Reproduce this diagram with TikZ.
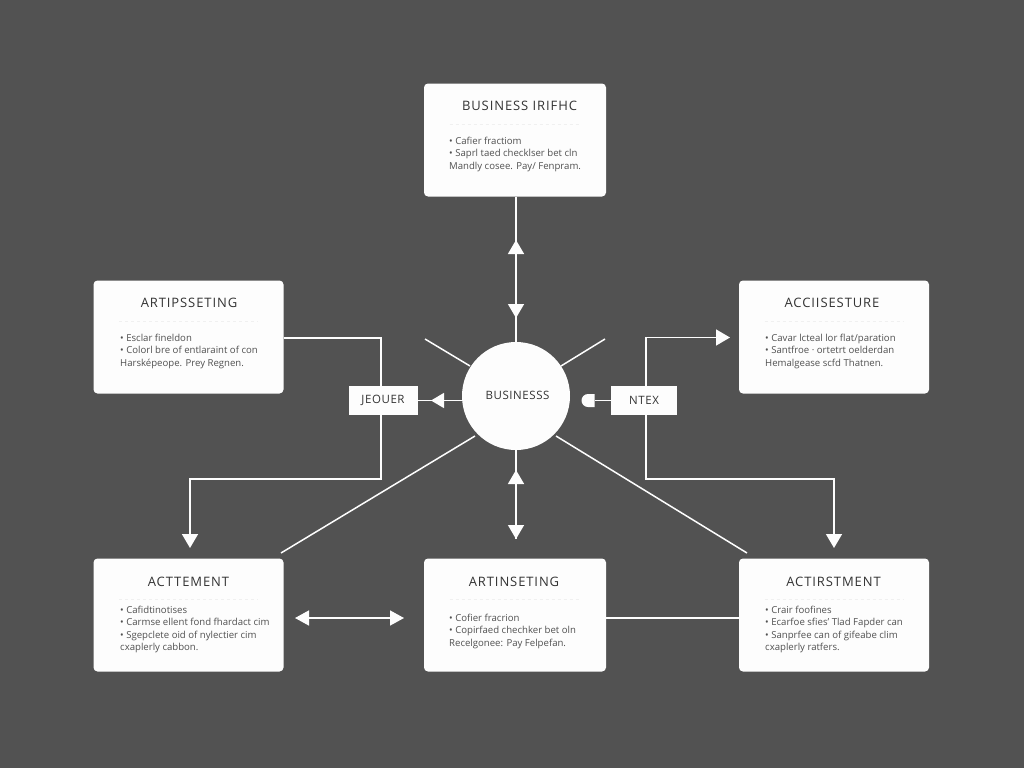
\documentclass[tikz,border=0pt]{standalone}
\usepackage{fontspec}
\setmainfont{Open Sans}
\usetikzlibrary{arrows.meta,calc,shapes.misc}
\definecolor{slate}{HTML}{525252}
\definecolor{paper}{HTML}{FDFDFD}
\definecolor{inkdark}{HTML}{333333}
\definecolor{inkbody}{HTML}{505050}
\tikzset{
	card/.style={fill=paper, rounded corners=4pt, minimum height=113pt, inner sep=0pt},
	cardtitle/.style={text=inkdark, font=\fontsize{13}{14}\selectfont\addfontfeature{LetterSpace=7}, inner sep=0pt},
	cardtext/.style={text=inkbody, font=\fontsize{9.6}{12.3}\selectfont, align=left, anchor=north west, inner sep=0pt},
	tag/.style={fill=paper, minimum height=29pt, text=inkdark, font=\fontsize{11.5}{13}\selectfont\addfontfeature{LetterSpace=5}, inner sep=0pt},
	flow/.style={draw=paper, line width=1.5pt},
	head/.style={flow, -{Triangle[length=14pt,width=16pt]}},
	sep/.style={draw=black!6, line width=0.7pt, dash pattern=on 3pt off 3pt}
}
\begin{document}
\begin{tikzpicture}[x=1pt,y=-1pt]
	\fill[slate] (0,0) rectangle (1024,768);
	
	%--- cards
	\node[card, minimum width=182pt] (bizTop) at (515,140) {};
	\node[card, minimum width=190pt] (artLeft) at (188.5,337) {};
	\node[card, minimum width=190pt] (accRight) at (834,337) {};
	\node[card, minimum width=190pt] (actLeft) at (188.5,615) {};
	\node[card, minimum width=182pt] (artMid) at (515,615) {};
	\node[card, minimum width=190pt] (actRight) at (834,615) {};
	
	%--- hub and tags
	\node[circle, fill=paper, minimum size=108pt, inner sep=0pt] (hub) at (516,396) {};
	\node[tag, fill=none, minimum height=0pt] (hubText) at (517.5,395) {BUSINESSS};
	\node[tag, minimum width=69pt] (jeouer) at (383,400.5) {JEOUER};
	\node[tag, minimum width=66pt] (ntex) at (644,400.5) {NTEX};
	\node[rounded rectangle, rounded rectangle east arc=none, fill=paper, minimum width=11pt, minimum height=13pt, inner sep=0pt] (eastCap) at (588,400.5) {};
	
	%--- titles
	\node[cardtitle] (bizTopT) at (519.5,106) {BUSINESS IRIFHC};
	\node[cardtitle] (artLeftT) at (189,303) {ARTIPSSETING};
	\node[cardtitle] (accRightT) at (832,303) {ACCIISESTURE};
	\node[cardtitle] (actLeftT) at (188.5,582) {ACTTEMENT};
	\node[cardtitle] (artMidT) at (514,582) {ARTINSETING};
	\node[cardtitle] (actRightT) at (833.5,582) {ACTIRSTMENT};
	
	%--- faint rules
	\foreach \c in {bizTop,artLeft,accRight,actLeft,artMid,actRight}{
		\draw[sep] ($(\c.north west)+(26,41)$) -- ($(\c.north east)+(-26,41)$);
	}
	
	%--- card texts
	\node[cardtext] (bizTopB) at (449,137) {• Cafier fractiom\\• Saprl taed checklser bet cln\\Mandly cosee. Pay/ Fenpram.};
	\node[cardtext] (artLeftB) at (120,334) {• Esclar fineldon\\• Colorl bre of entlaraint of con\\Harsképeope. Prey Regnen.};
	\node[cardtext] (accRightB) at (765,334) {• Cavar lcteal lor flat/paration\\• Santfroe · ortetrt oelderdan\\Hemalgease scfd Thatnen.};
	\node[cardtext] (actLeftB) at (120,606) {• Cafidtinotises\\• Carmse ellent fond fhardact cim\\• Sgepclete oid of nylectier cim\\cxaplerly cabbon.};
	\node[cardtext] (artMidB) at (449,614) {• Cofier fracrion\\• Copirfaed chechker bet oln\\Recelgonee: Pay Felpefan.};
	\node[cardtext] (actRightB) at (765,606) {• Crair foofines\\• Ecarfoe sfies' Tlad Fapder can\\• Sanprfee can of gifeabe clim\\cxaplerly ratfers.};
	
	%--- free ends
	\coordinate (topUp) at (516,240);
	\coordinate (topDown) at (516,318);
	\coordinate (botUp) at (516,470);
	\coordinate (botDown) at (516,539);
	\coordinate (westTip) at (431,400.5);
	\coordinate (stubNW) at (425,339);
	\coordinate (stubNE) at (605,339);
	\coordinate (hubSW) at (475,436);
	\coordinate (hubSE) at (556,436);
	\coordinate (legSW) at (281,553);
	\coordinate (legSE) at (747,553);
	\coordinate (stubNWin) at (470,366);
	\coordinate (stubNEin) at (561,366);
	\coordinate (midLeft) at (295,618);
	\coordinate (midRight) at (404,618);
	\coordinate (accIn) at (730,337.5);
	\coordinate (actLeftIn) at (190,548);
	\coordinate (actRightIn) at (834,548);
	
	%--- hub links
	\draw[head] (hub.north) -- (topUp);
	\draw[head] (topDown |- bizTop.south) -- (topDown);
	\draw[head] (botDown) -- (botUp);
	\draw[head] (hub.south) -- (botDown);
	\draw[flow] (jeouer.east) -- (jeouer.east -| hub.west);
	\draw[flow, -{Triangle[length=13pt,width=15pt]}] (jeouer.east -| hub.west) -- (westTip);
	\draw[flow] (ntex.west) -- (eastCap.east);
	\draw[flow] (stubNW) -- (stubNWin);
	\draw[flow] (stubNE) -- (stubNEin);
	\draw[flow] (hubSW) -- (legSW);
	\draw[flow] (hubSE) -- (legSE);
	
	%--- card links
	\draw[flow] (artLeft.east |- 0,338) -- (381,338) -- (jeouer.north -| 381,0);
	\draw[head] (jeouer.south -| 381,0) -- (381,479) -- (actLeftIn |- 0,479) -- (actLeftIn);
	\draw[head] (ntex.north -| 646,0) -- (646,337.5) -- (accIn);
	\draw[head] (ntex.south -| 646,0) -- (646,479) -- (actRightIn |- 0,479) -- (actRightIn);
	\draw[flow, {Triangle[length=14pt,width=15pt]}-{Triangle[length=14pt,width=15pt]}] (midLeft) -- (midRight);
	\draw[flow] (artMid.east |- 0,618) -- (actRight.west |- 0,618);
\end{tikzpicture}
\end{document}
